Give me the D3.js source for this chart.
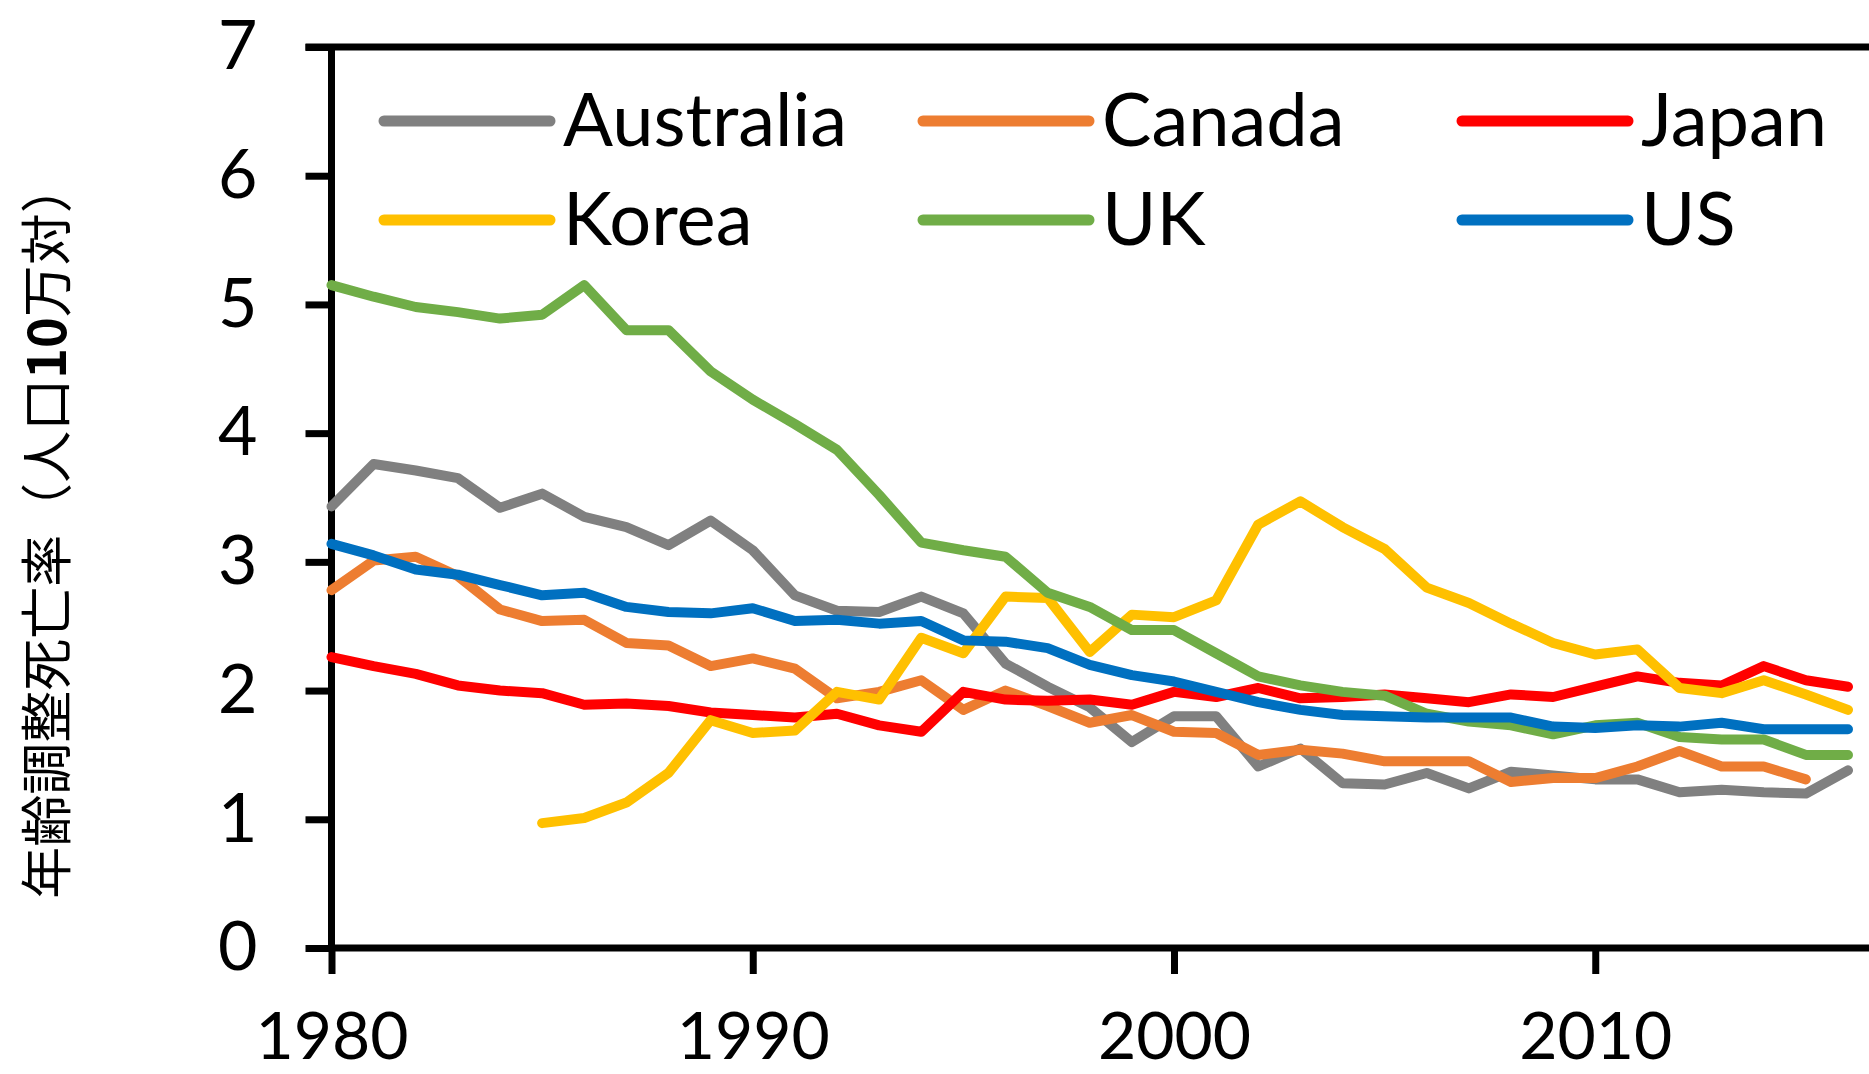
<!DOCTYPE html>
<html>
<head>
<meta charset="utf-8">
<script src="https://cdn.jsdelivr.net/npm/d3@7"></script>
<style>
    body { margin: 0; background: #fff; overflow: hidden; }
    svg { display: block; }
</style>
</head>
<body>
<div class="chart"></div>
<script>
// years on the x axis
const years = d3.range(1980, 2017);

// series values (null = no data)
const australia = [3.43, 3.76, 3.71, 3.65, 3.42, 3.53, 3.35, 3.27, 3.13, 3.32, 3.09, 2.74, 2.62, 2.61, 2.73, 2.60, 2.21, 2.03, 1.87, 1.60, 1.80, 1.80, 1.41, 1.55, 1.28, 1.27, 1.36, 1.24, 1.37, 1.34, 1.31, 1.31, 1.21, 1.23, 1.21, 1.20, 1.38];
const canada = [2.78, 3.01, 3.04, 2.89, 2.63, 2.54, 2.55, 2.37, 2.35, 2.19, 2.25, 2.17, 1.94, 1.99, 2.08, 1.85, 2.00, 1.88, 1.75, 1.81, 1.68, 1.67, 1.50, 1.54, 1.51, 1.45, 1.45, 1.45, 1.29, 1.32, 1.32, 1.41, 1.53, 1.41, 1.41, 1.31, null];
const japan = [2.26, 2.19, 2.13, 2.04, 2.00, 1.98, 1.89, 1.90, 1.88, 1.83, 1.81, 1.79, 1.82, 1.73, 1.68, 1.99, 1.93, 1.92, 1.93, 1.89, 1.99, 1.95, 2.02, 1.94, 1.95, 1.97, 1.94, 1.91, 1.97, 1.95, 2.03, 2.11, 2.06, 2.04, 2.19, 2.08, 2.03];
const korea = [null, null, null, null, null, 0.97, 1.01, 1.13, 1.36, 1.77, 1.67, 1.69, 1.99, 1.93, 2.41, 2.29, 2.73, 2.72, 2.30, 2.59, 2.57, 2.70, 3.29, 3.47, 3.27, 3.10, 2.80, 2.68, 2.52, 2.37, 2.28, 2.32, 2.02, 1.98, 2.08, 1.97, 1.85];
const uk = [5.15, 5.06, 4.98, 4.94, 4.89, 4.92, 5.15, 4.80, 4.80, 4.48, 4.26, 4.07, 3.87, 3.52, 3.15, 3.09, 3.04, 2.76, 2.65, 2.47, 2.47, 2.29, 2.11, 2.04, 1.99, 1.96, 1.82, 1.76, 1.73, 1.66, 1.73, 1.75, 1.64, 1.62, 1.62, 1.50, 1.50];
const us = [3.14, 3.05, 2.94, 2.90, 2.82, 2.74, 2.76, 2.65, 2.61, 2.60, 2.64, 2.54, 2.55, 2.52, 2.54, 2.39, 2.38, 2.33, 2.20, 2.12, 2.07, 1.99, 1.91, 1.85, 1.81, 1.80, 1.79, 1.79, 1.79, 1.72, 1.71, 1.73, 1.72, 1.75, 1.70, 1.70, 1.70];

const seriesNames = ["Australia", "Canada", "Japan", "Korea", "UK", "US"];
const seriesColors = ["#808080", "#ED7D31", "#FF0000", "#FFC000", "#70AD47", "#0070C0"];
const xTicks = [1980, 1990, 2000, 2010];
const yTicks = [0, 1, 2, 3, 4, 5, 6, 7];
const yTitle = "年齢調整死亡率（人口";
const yTitleNum = "10";
const yTitleEnd = "万対）";

const width = 1869,
    height = 1074;

const x = d3.scaleLinear()
    .domain([1980, 2016])
    .range([331.5, 1848]);
const y = d3.scaleLinear()
    .domain([0, 7])
    .range([948, 47]);

let svg = d3.select(".chart").append("svg")
    .attr("width", width)
    .attr("height", height);

const latin = "Lato, 'Open Sans', sans-serif";

// axes
let xAxis = svg.append("g")
    .attr("transform", `translate(0,${y(0)})`)
    .call(d3.axisBottom(x).tickValues(xTicks).tickFormat(d3.format("d")).tickSize(26).tickPadding(38));
let yAxis = svg.append("g")
    .attr("transform", `translate(${x(1980)},0)`)
    .call(d3.axisLeft(y).tickValues(yTicks).tickFormat(d3.format("d")).tickSize(26).tickPadding(48));

[xAxis, yAxis].forEach(a => {
    a.select(".domain").remove();
    a.selectAll(".tick line").attr("stroke", "#000").attr("stroke-width", 7);
    a.selectAll(".tick text")
        .attr("fill", "#000")
        .style("font-family", latin)
        .style("font-size", "68px");
});
xAxis.selectAll(".tick text").style("font-size", "66px");

// frame: top edge, left axis, bottom axis (plot runs past the right edge)
svg.append("line")
    .attr("x1", x(1980) - 26).attr("x2", width + 10)
    .attr("y1", y(7)).attr("y2", y(7))
    .attr("stroke", "#000").attr("stroke-width", 7);
svg.append("line")
    .attr("x1", x(1980)).attr("x2", x(1980))
    .attr("y1", y(7)).attr("y2", y(0))
    .attr("stroke", "#000").attr("stroke-width", 7);

// series lines
const line = d3.line()
    .defined(d => d.v != null)
    .x(d => x(d.year))
    .y(d => y(d.v));

const allSeries = [australia, canada, japan, korea, uk, us];
allSeries.forEach((vals, i) => {
    const pts = years.map((yr, j) => ({ year: yr, v: vals[j] }));
    svg.append("path")
        .datum(pts)
        .attr("fill", "none")
        .attr("stroke", seriesColors[i])
        .attr("stroke-width", 10)
        .attr("stroke-linejoin", "round")
        .attr("stroke-linecap", "round")
        .attr("d", line);
});

svg.append("line")
    .attr("x1", x(1980)).attr("x2", width + 10)
    .attr("y1", y(0)).attr("y2", y(0))
    .attr("stroke", "#000").attr("stroke-width", 7);

// legend, 3 columns x 2 rows
const legendX = [384, 923, 1462],
    legendY = [121, 220];
seriesNames.forEach((name, i) => {
    const cx = legendX[i % 3],
        cy = legendY[Math.floor(i / 3)];
    svg.append("line")
        .attr("x1", cx).attr("x2", cx + 166)
        .attr("y1", cy).attr("y2", cy)
        .attr("stroke", seriesColors[i])
        .attr("stroke-width", 11)
        .attr("stroke-linecap", "round");
    svg.append("text")
        .attr("x", cx + 179)
        .attr("y", cy + 25)
        .style("font-family", latin)
        .style("font-size", "74px")
        .attr("fill", "#000")
        .text(name);
});

// y axis title
let title = svg.append("text")
    .attr("transform", "translate(43,530) rotate(-90)")
    .attr("text-anchor", "middle")
    .attr("dominant-baseline", "central")
    .style("font-family", "'Noto Sans CJK JP', sans-serif")
    .style("font-size", "52px")
    .attr("fill", "#000");
title.append("tspan").text(yTitle);
title.append("tspan").style("font-weight", "bold").text(yTitleNum);
title.append("tspan").text(yTitleEnd);
</script>
</body>
</html>
